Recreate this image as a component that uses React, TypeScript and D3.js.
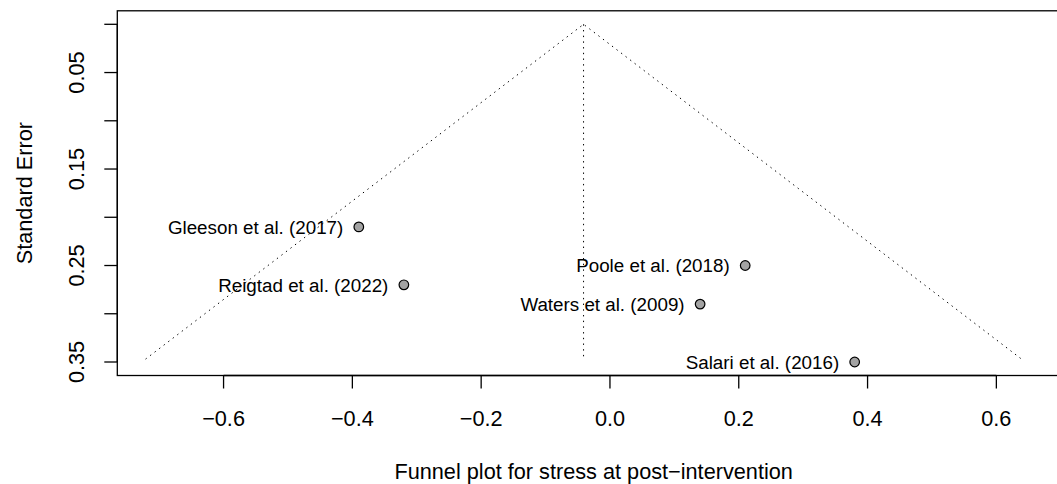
import React from 'react';
import * as d3 from 'd3';

// funnel plot data
const studies = [
  'Gleeson et al. (2017)',
  'Reigtad et al. (2022)',
  'Poole et al. (2018)',
  'Waters et al. (2009)',
  'Salari et al. (2016)',
];
const effects = [-0.39, -0.32, 0.21, 0.14, 0.38];
const stdErrors = [0.21, 0.27, 0.25, 0.29, 0.35];
const pooledEffect = -0.041;
const funnelSeMax = 0.347;

const xTicks = [-0.6, -0.4, -0.2, 0, 0.2, 0.4, 0.6];
const yTicks = [0, 0.05, 0.1, 0.15, 0.2, 0.25, 0.3, 0.35];
const yTickLabels = [0.05, 0.15, 0.25, 0.35];

const xTitle = 'Funnel plot for stress at post\u2212intervention';
const yTitle = 'Standard Error';

const width = 1057;
const height = 484;
const font = '"Liberation Sans", Arial, Helvetica, sans-serif';

const App = () => {
  const x = d3.scaleLinear().domain([-0.765, 0.72]).range([117.3, 117.3 + 1.485 * 644]);
  const y = d3.scaleLinear().domain([0, 0.35]).range([24.3, 362]);

  const boxTop = y(-0.014);
  const boxBottom = y(0.364);
  const boxLeft = x(-0.765);
  const boxRight = x(0.72);
  const fmtX = d3.format('.1f');
  const fmtY = d3.format('.2f');
  const tick = 13;

  const funnel = d3.line<[number, number]>()
    .x(d => x(d[0]))
    .y(d => y(d[1]));
  const funnelPts: [number, number][] = [
    [pooledEffect - 1.96 * funnelSeMax, funnelSeMax],
    [pooledEffect, 0],
    [pooledEffect + 1.96 * funnelSeMax, funnelSeMax],
  ];
  const dots = '1.4,4.3';

  return (
    <svg width={width} height={height} style={{ position: 'absolute', left: 0, top: 0, background: '#fff' }} fontFamily={font}>
      <rect x={boxLeft} y={boxTop} width={boxRight - boxLeft} height={boxBottom - boxTop} fill="none" stroke="#000" strokeWidth={1.3} />

      {/* funnel */}
      <path d={funnel(funnelPts) || ''} fill="none" stroke="#000" strokeWidth={1} strokeDasharray={dots} />
      <line x1={x(pooledEffect)} x2={x(pooledEffect)} y1={y(0)} y2={y(funnelSeMax)} stroke="#000" strokeWidth={1} strokeDasharray={dots} />

      {/* points and labels */}
      {studies.map((s, i) => (
        <g key={s}>
          <circle cx={x(effects[i])} cy={y(stdErrors[i])} r={4.8} fill="#a3a3a3" stroke="#000" strokeWidth={1.2} />
          <text x={x(effects[i]) - 15.5} y={y(stdErrors[i])} dy="0.36em" textAnchor="end" fontSize={18.8} fill="#000">{s}</text>
        </g>
      ))}

      {/* x axis */}
      <line x1={x(xTicks[0])} x2={x(xTicks[xTicks.length - 1])} y1={boxBottom} y2={boxBottom} stroke="#000" strokeWidth={1.3} />
      {xTicks.map(t => (
        <g key={t}>
          <line x1={x(t)} x2={x(t)} y1={boxBottom} y2={boxBottom + tick} stroke="#000" strokeWidth={1.3} />
          <text x={x(t)} y={425.7} textAnchor="middle" fontSize={21.7}>{fmtX(t)}</text>
        </g>
      ))}
      <text x={(boxLeft + 1040) / 2 + 15} y={479} textAnchor="middle" fontSize={21.7}>{xTitle}</text>

      {/* y axis */}
      <line x1={boxLeft} x2={boxLeft} y1={y(yTicks[0])} y2={y(yTicks[yTicks.length - 1])} stroke="#000" strokeWidth={1.3} />
      {yTicks.map(t => (
        <line key={t} x1={boxLeft - tick} x2={boxLeft} y1={y(t)} y2={y(t)} stroke="#000" strokeWidth={1.3} />
      ))}
      {yTickLabels.map(t => (
        <text key={t} transform={`translate(84.3,${y(t)}) rotate(-90)`} textAnchor="middle" fontSize={21.7}>{fmtY(t)}</text>
      ))}
      <text transform={`translate(32,${(boxTop + boxBottom) / 2}) rotate(-90)`} textAnchor="middle" fontSize={21.7}>{yTitle}</text>
    </svg>
  );
};

export default App;
